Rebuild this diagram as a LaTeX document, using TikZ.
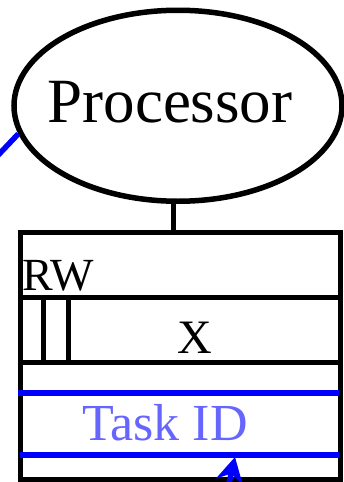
\documentclass[tikz,border=0pt]{standalone}
\usepackage{fontspec}
\setmainfont{Liberation Serif}
\usepackage{tikz}
\usetikzlibrary{
  shapes.geometric,
  arrows.meta
}
\tikzset{
  unit/.style={draw,ellipse,line width=5.5pt,inner sep=0pt,
    minimum width=328pt,minimum height=191pt},
  wire/.style={line width=5pt},
  bus/.style={draw=blue,line width=5.5pt},
}
\definecolor{tasktext}{RGB}{102,102,255}

\begin{document}
\begin{tikzpicture}[
  x=1pt,y=-1pt,
  field/.style={inner sep=0pt,font=\fontsize{#1}{#1}\selectfont},
]
\useasboundingbox (0,0) rectangle (344,482);

\node[unit] (proc) at (178,105.75) {};
\node[field=63,anchor=base] (proclabel) at (170,122) {Processor};

% register box
\node[draw,line width=5pt,inner sep=0pt,minimum width=319.5pt,minimum height=247pt]
  (reg) at (180.25,355.5) {};
\coordinate (link) at (173.5,232);
\draw[wire] (link) -- (link |- proc.south);

\draw[wire] (20.5,297.5) -- (340,297.5);
\draw[wire] (20.5,362.5) -- (340,362.5);
\draw[wire] (43,297.5) -- (43,362.5);
\draw[wire] (68,297.5) -- (68,362.5);

\node[field=46,anchor=base west] (rw) at (22,290) {RW};
\node[field=48,anchor=base] (addr) at (195,353) {X};

\draw[bus] (18,393) -- (339,393);
\draw[bus] (20,455) -- (339,455);
\node[field=52,anchor=base,text=tasktext] (task) at (165,440) {Task ID};

% incoming buses
\coordinate (feed) at (-15,169);
\draw[bus] (feed) -- (proc.190);
\coordinate (busin) at (226,496);
\coordinate (tagin) at (235,457);
\draw[bus,-{Stealth[length=25pt,width=27pt,inset=8pt]}] (busin) -- (tagin);
\end{tikzpicture}
\end{document}
